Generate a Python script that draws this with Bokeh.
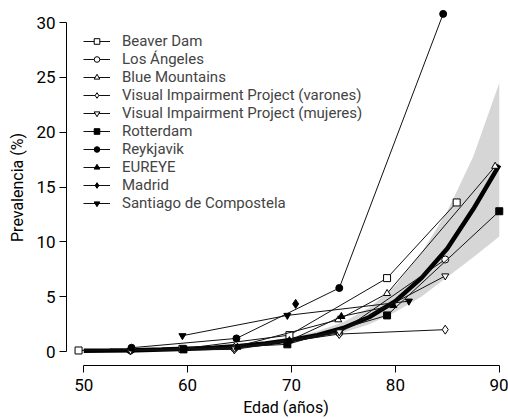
from bokeh.plotting import figure
from bokeh.models import Legend, LegendItem, Range1d, FixedTicker
from bokeh.embed import file_html
from bokeh.resources import INLINE

# ---- data ----
curve_age = [50, 52.5, 55, 57.5, 60, 62.5, 65, 67.5, 70, 72.5, 75, 77.5, 80, 82.5, 85, 87.5, 90]
curve_prev = [0.08, 0.1, 0.13, 0.18, 0.26, 0.36, 0.52, 0.74, 1.05, 1.5, 2.15, 3.15, 4.6, 6.7, 9.4, 13.0, 17.0]
band_lower = [0.06, 0.08, 0.1, 0.14, 0.2, 0.29, 0.42, 0.6, 0.88, 1.25, 1.75, 2.5, 3.6, 5.0, 6.8, 8.6, 10.5]
band_upper = [0.1, 0.13, 0.17, 0.23, 0.33, 0.46, 0.65, 0.92, 1.3, 1.85, 2.7, 4.0, 6.0, 9.0, 12.8, 17.8, 24.5]

beaver_age = [49.5, 59.5, 69.8, 79.2, 85.9]
beaver_prev = [0.1, 0.25, 1.5, 6.7, 13.6]
la_age = [54.5, 64.5, 74.6, 84.8]
la_prev = [0.1, 0.3, 1.7, 8.4]
blue_age = [54.5, 64.5, 74.5, 79.2, 89.6]
blue_prev = [0.1, 0.4, 2.9, 5.3, 16.9]
vipv_age = [54.5, 64.5, 74.6, 84.8]
vipv_prev = [0.1, 0.2, 1.6, 2.0]
vipm_age = [54.5, 64.5, 74.6, 84.8]
vipm_prev = [0.1, 0.3, 1.8, 6.9]
rott_age = [59.6, 69.6, 79.2, 90.0]
rott_prev = [0.2, 0.66, 3.3, 12.8]
reyk_age = [54.6, 64.7, 74.6, 84.6]
reyk_prev = [0.35, 1.2, 5.8, 30.8]
eureye_age = [64.8, 69.8, 74.8, 79.8]
eureye_prev = [0.4, 1.0, 3.2, 4.2]
madrid_age = [70.4]
madrid_prev = [4.35]
santiago_age = [59.5, 69.6, 81.3]
santiago_prev = [1.45, 3.3, 4.6]

series = [
    ("Beaver Dam", beaver_age, beaver_prev, "square", False),
    ("Los Ángeles", la_age, la_prev, "circle", False),
    ("Blue Mountains", blue_age, blue_prev, "triangle", False),
    ("Visual Impairment Project (varones)", vipv_age, vipv_prev, "diamond", False),
    ("Visual Impairment Project (mujeres)", vipm_age, vipm_prev, "inverted_triangle", False),
    ("Rotterdam", rott_age, rott_prev, "square", True),
    ("Reykjavik", reyk_age, reyk_prev, "circle", True),
    ("EUREYE", eureye_age, eureye_prev, "triangle", True),
    ("Madrid", madrid_age, madrid_prev, "diamond", True),
    ("Santiago de Compostela", santiago_age, santiago_prev, "inverted_triangle", True),
]

x_ticks = [50, 60, 70, 80, 90]
y_ticks = [0, 5, 10, 15, 20, 25, 30]

FONT = "Roboto"

p = figure(width=508, height=419,
           x_range=Range1d(48.34, 90.6), y_range=Range1d(-1.27, 31.2),
           output_backend="svg", toolbar_location=None,
           min_border_left=66, min_border_right=3, min_border_top=9, min_border_bottom=52)

p.varea(x=curve_age, y1=band_lower, y2=band_upper, fill_color="#d6d6d6")
p.line(curve_age, curve_prev, line_width=4.5, line_color="black")

items = []
for name, xs, ys, mk, filled in series:
    rl = p.line(xs, ys, line_color="#111111", line_width=1)
    sz = 9 if mk == "diamond" else 7
    rs = p.scatter(xs, ys, marker=mk, size=sz, line_color="black", line_width=1,
                   fill_color="black" if filled else "white")
    items.append(LegendItem(label=name, renderers=[rl, rs]))

legend = Legend(items=items, location=(17, 153), padding=0, spacing=0,
                glyph_width=27, glyph_height=14, label_height=14, label_standoff=12,
                label_text_font=FONT, label_text_font_size="15px",
                background_fill_alpha=0, border_line_alpha=0)
p.add_layout(legend)

p.xgrid.visible = False
p.ygrid.visible = False
p.outline_line_color = None

p.xaxis.bounds = (50, 90)
p.yaxis.bounds = (0, 30)
p.xaxis.ticker = FixedTicker(ticks=x_ticks)
p.yaxis.ticker = FixedTicker(ticks=y_ticks)
for ax in (p.xaxis, p.yaxis):
    ax.major_tick_out = 7
    ax.major_tick_in = 0
    ax.minor_tick_out = 0
    ax.minor_tick_in = 0
    ax.axis_line_color = "black"
    ax.major_tick_line_color = "black"
    ax.major_label_text_font = FONT
    ax.major_label_text_font_size = "17px"
    ax.major_label_text_color = "black"
    ax.axis_label_text_font = FONT
    ax.axis_label_text_font_size = "16px"
    ax.axis_label_text_font_style = "normal"
    ax.axis_label_text_color = "black"
p.xaxis.axis_label = "Edad (años)"
p.yaxis.axis_label = "Prevalencia (%)"
p.xaxis.major_label_standoff = 6
p.yaxis.major_label_standoff = 4
p.xaxis.axis_label_standoff = 4
p.yaxis.axis_label_standoff = 6

open("out.html", "w").write(file_html(p, INLINE))
